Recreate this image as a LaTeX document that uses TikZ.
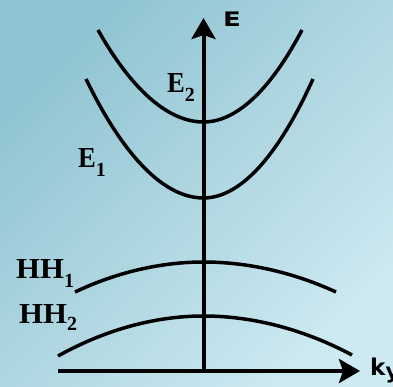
\documentclass[tikz,border=0pt]{standalone}
\usepackage{fontspec}
\setmainfont{Liberation Serif}
\newfontfamily\labsans{DejaVu Sans}
\usetikzlibrary{arrows.meta}
\definecolor{bgA}{RGB}{144,196,210}
\definecolor{bgB}{RGB}{205,233,241}
\tikzset{
  axisline/.style={line width=4pt,-{Stealth[length=21pt,width=24pt,inset=4pt]}},
  band/.style={line width=3.5pt},
  lab/.style={anchor=base west,inner sep=0pt,font=\bfseries\fontsize{29}{29}\selectfont},
  axlab/.style={anchor=base west,inner sep=0pt,font=\labsans\bfseries\fontsize{20}{20}\selectfont}
}
\newcommand{\lsub}[2][9pt]{\raisebox{-#1}{\fontsize{20}{20}\selectfont #2}}
\begin{document}
\begin{tikzpicture}[x=1pt,y=-1pt]
\useasboundingbox (0,0) rectangle (393,387);
\shade[shading=axis,top color=bgA,bottom color=bgB,shading angle=45] (0,0) rectangle (393,387);
% axes
\coordinate (origin) at (203.5,371);
\coordinate (etop) at (203.5,18);
\coordinate (kleft) at (58,371);
\coordinate (kright) at (360,371);
\draw[axisline] (origin) -- (etop);
\draw[axisline] (kleft) -- (kright);
% bands
\draw[band] (98,30) parabola bend (203.5,122) (302,30);
\draw[band] (86,79) parabola bend (203.5,198) (313,79);
\draw[band] (75,292) parabola bend (203.5,262) (336,292);
\draw[band] (58,356) parabola bend (203.5,316) (352,355);
% labels
\node[lab] (e2) at (167,93) {\scalebox{0.92}[1]{E}\lsub{2}};
\node[lab] (e1) at (78,168) {\scalebox{0.92}[1]{E}\lsub{1}};
\node[lab] (hh1) at (16,278) {\scalebox{1.06}[1]{HH}\lsub{1}};
\node[lab] (hh2) at (19,323) {\scalebox{1.06}[1]{HH}\lsub[7pt]{2}};
\node[axlab] (elab) at (223,27) {\scalebox{1.3}[1]{E}};
\node[axlab,font=\labsans\bfseries\fontsize{23}{23}\selectfont] (klab) at (370,375) {k\raisebox{-3pt}{\fontsize{21}{21}\selectfont y}};
\end{tikzpicture}
\end{document}
